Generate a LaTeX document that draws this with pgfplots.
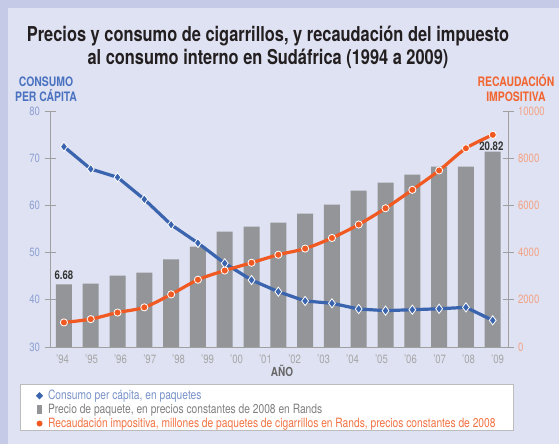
\documentclass[border=0pt]{standalone}
\usepackage{fontspec}
\setmainfont{TeX Gyre Heros}[FakeStretch=0.80]
\usepackage{pgfplots}
\pgfplotsset{compat=1.18}
\definecolor{frame}{HTML}{C5CAE6}
\definecolor{panel}{HTML}{DFE2F2}
\definecolor{cblue}{HTML}{3A64AE}
\definecolor{corange}{HTML}{F05A22}
\definecolor{bargray}{HTML}{939598}
\definecolor{axgray}{HTML}{A0A0A0}
\definecolor{lbl}{HTML}{8EA1D2}
\definecolor{rlbl}{HTML}{F4A284}
\definecolor{xlbl}{HTML}{A6A6A6}
\definecolor{ttl}{HTML}{231F20}
\definecolor{btitle}{HTML}{4A72C0}
\definecolor{otitle}{HTML}{F26530}
\begin{document}
\begin{tikzpicture}[x=1pt,y=1pt]
\useasboundingbox (0,0) rectangle (559,444);
\fill[frame] (0,0) rectangle (559,444);
\fill[panel] (8,0) rectangle (559,436);
\fill[white] (20,14) rectangle (513,60);
\draw[axgray!70, line width=0.8pt] (20,14) rectangle (513,60);
\node[anchor=base, font=\bfseries\fontsize{20.5}{24}\selectfont, text=ttl] at (268,402) {Precios y consumo de cigarrillos, y recaudación del impuesto};
\node[anchor=base, font=\bfseries\fontsize{20.5}{24}\selectfont, text=ttl] at (268,379) {al consumo interno en Sudáfrica (1994 a 2009)};
\node[anchor=base, font=\bfseries\fontsize{13}{15}\selectfont, text=btitle] at (46,357) {CONSUMO};
\node[anchor=base, font=\bfseries\fontsize{13}{15}\selectfont, text=btitle] at (46,342) {PER CÁPITA};
\node[anchor=base, font=\bfseries\fontsize{13}{15}\selectfont, text=otitle] at (516,357) {RECAUDACIÓN};
\node[anchor=base, font=\bfseries\fontsize{13}{15}\selectfont, text=otitle] at (516,342) {IMPOSITIVA};
\node[anchor=base, font=\bfseries\fontsize{12.5}{15}\selectfont, text=black!60] at (282,67) {AÑO};
\pgfplotsset{every axis/.append style={scale only axis, width=458pt, height=236pt,
  xmin=-0.52, xmax=16.57, at={(50pt,97pt)}, anchor=south west,
  /pgf/number format/assume math mode=true,
  tick label style={font=\fontsize{12}{14}\selectfont}}}
% bars
\begin{axis}[ymin=0, ymax=25.15, hide axis]
\addplot[ybar, bar width=16pt, fill=bargray, draw=none] coordinates {
(0,6.68) (1,6.76) (2,7.61) (3,7.93) (4,9.34) (5,10.70) (6,12.30) (7,12.83) (8,13.26)
(9,14.21) (10,15.17) (11,16.67) (12,17.52) (13,18.37) (14,19.22) (15,19.22) (16,20.82)};
\node[anchor=base, font=\bfseries\fontsize{12}{14}\selectfont, text=black!80] at (axis cs:0,7.15) {6.68};
\node[anchor=base, font=\bfseries\fontsize{12}{14}\selectfont, text=black!80] at (axis cs:15.95,20.9) {20.82};
\end{axis}
% left axis + blue
\begin{axis}[ymin=30, ymax=80, ytick={30,40,50,60,70,80},
  axis y line*=left, axis x line*=bottom,
  axis line style={draw=axgray, line width=0.9pt, -},
  ytick style={draw=axgray, line width=0.9pt}, tick align=center, major tick length=11pt,
  yticklabel style={text=lbl, xshift=-1pt},
  xtick={-0.05,1.03,2.11,3.20,4.28,5.36,6.44,7.52,8.61,9.69,10.77,11.85,12.93,14.02,15.10,16.18},
  xticklabels={'94,'95,'96,'97,'98,'99,'00,'01,'02,'03,'04,'05,'06,'07,'08,'09},
  xtick style={draw=none}, xticklabel style={text=xlbl, yshift=1pt}]
\addplot[cblue, line width=3.2pt, mark=diamond*, mark size=4.6pt,
  mark options={fill=cblue, draw=white, line width=0.8pt}] coordinates {
(0,72.44) (1,67.71) (2,65.95) (3,61.29) (4,55.91) (5,52.03) (6,47.73) (7,44.19) (8,41.72)
(9,39.75) (10,39.26) (11,38.05) (12,37.70) (13,37.90) (14,38.10) (15,38.40) (16,35.65)};
\end{axis}
% right axis + orange
\begin{axis}[ymin=0, ymax=10000, ytick={0,2000,4000,6000,8000,10000},
  axis y line*=right, axis x line=none, scaled y ticks=false,
  yticklabel style={text=rlbl, /pgf/number format/1000 sep={}, xshift=1pt},
  axis line style={draw=axgray, line width=0.9pt, -},
  ytick style={draw=axgray, line width=0.9pt}, tick align=center, major tick length=11pt]
\addplot[corange, line width=3.2pt, smooth, tension=0.5, mark=*, mark size=3.6pt,
  mark options={fill=corange, draw=white, line width=0.8pt}] coordinates {
(0,1040) (1,1180) (2,1460) (3,1680) (4,2230) (5,2850) (6,3240) (7,3570) (8,3910)
(9,4170) (10,4620) (11,5190) (12,5880) (13,6660) (14,7480) (15,8420) (16,8990)};
\end{axis}
\begin{axis}[hide axis, ymin=0, ymax=1,
  legend style={draw=none, fill=none, at={(axis description cs:-0.032,-0.176)}, anchor=north west,
    font=\fontsize{12.8}{14}\selectfont, row sep=0pt, inner sep=0pt,
    nodes={inner xsep=1.5pt, inner ysep=1.5pt}},
  legend cell align=left]
\addlegendimage{legend image code/.code={\path[draw=none,fill=none] (0,0)--(11pt,0);\fill[draw=none,cblue] (4pt,-3.6pt)--(7.6pt,0pt)--(4pt,3.6pt)--(0.4pt,0pt)--cycle;}}
\addlegendentry{\textcolor{lbl!75!cblue}{Consumo per cápita, en paquetes}}
\addlegendimage{legend image code/.code={\path[draw=none,fill=none] (0,0)--(11pt,0);\fill[draw=none,bargray] (1.5pt,-4.5pt) rectangle (6.5pt,5pt);}}
\addlegendentry{\textcolor{black!50}{Precio de paquete, en precios constantes de 2008 en Rands}}
\addlegendimage{legend image code/.code={\path[draw=none,fill=none] (0,0)--(11pt,0);\fill[draw=none,corange] (4pt,0pt) circle (3pt);}}
\addlegendentry{\textcolor{corange!85}{Recaudación impositiva, millones de paquetes de cigarrillos en Rands, precios constantes de 2008}}
\end{axis}
\end{tikzpicture}
\end{document}
